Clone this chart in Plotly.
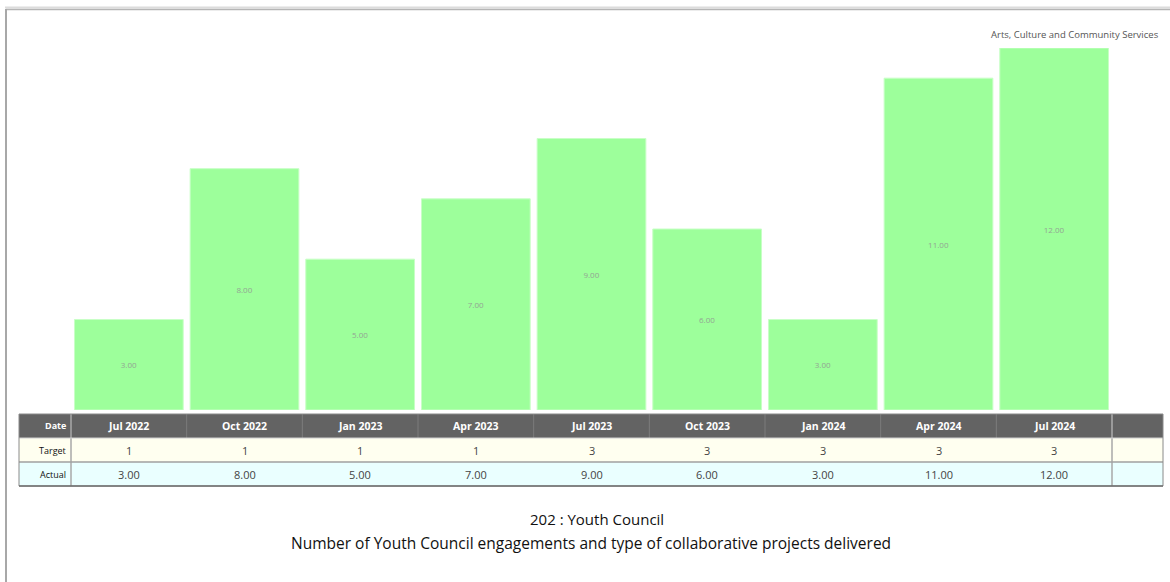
import plotly.graph_objects as go

dates = ["Jul 2022", "Oct 2022", "Jan 2023", "Apr 2023", "Jul 2023",
         "Oct 2023", "Jan 2024", "Apr 2024", "Jul 2024"]
target = [1, 1, 1, 1, 3, 3, 3, 3, 3]
actual = [3.00, 8.00, 5.00, 7.00, 9.00, 6.00, 3.00, 11.00, 12.00]

W, H = 1170, 582
L, R, T, B = 71, 1112, 48, 410  # plot area in pixels
FONT = "Open Sans"


def px(x):
    return (x - L) / (R - L)


def py(y):
    return (B - y) / (B - T)


fig = go.Figure()
fig.add_trace(go.Bar(
    x=dates, y=actual,
    marker=dict(color="#9dff9b", line=dict(color="#c8ffc6", width=1)),
    text=[f"{v:.2f}" for v in actual],
    textposition="inside", insidetextanchor="middle",
    textangle=0, constraintext="none",
    textfont=dict(family=FONT, size=8, color="#93a593"),
    hoverinfo="skip",
))

shapes = []
ann = []

# frame
shapes.append(dict(type="line", xref="paper", yref="paper",
                   x0=px(5), x1=px(1170), y0=py(7.5), y1=py(7.5),
                   line=dict(color="#dcdcdc", width=2)))
shapes.append(dict(type="line", xref="paper", yref="paper",
                   x0=px(6), x1=px(1170), y0=py(9.5), y1=py(9.5),
                   line=dict(color="#b5b5b5", width=1.5)))
shapes.append(dict(type="line", xref="paper", yref="paper",
                   x0=px(6), x1=px(6), y0=py(9), y1=py(582),
                   line=dict(color="#a8a8a8", width=2)))

# table geometry
tx0, tx1 = 19, 1163
rows = [414, 438, 462, 486]
n = len(dates)
colw = (R - L) / n
bounds = [L + i * colw for i in range(n + 1)]

fills = ["#636363", "#fffff0", "#eaffff"]
for r in range(3):
    shapes.append(dict(type="rect", xref="paper", yref="paper",
                       x0=px(tx0), x1=px(tx1), y0=py(rows[r]), y1=py(rows[r + 1]),
                       fillcolor=fills[r], line=dict(width=0), layer="below"))

# header separators
for b in bounds[1:]:
    shapes.append(dict(type="line", xref="paper", yref="paper",
                       x0=px(b), x1=px(b), y0=py(rows[0]), y1=py(rows[1]),
                       line=dict(color="#7c7c7c", width=1)))
# label column and extra column separators through body
for b in [L, R]:
    shapes.append(dict(type="line", xref="paper", yref="paper",
                       x0=px(b), x1=px(b), y0=py(rows[0]), y1=py(rows[3]),
                       line=dict(color="#a8a8a8", width=1.5)))
# row separators
shapes.append(dict(type="line", xref="paper", yref="paper",
                   x0=px(tx0), x1=px(tx1), y0=py(rows[2]), y1=py(rows[2]),
                   line=dict(color="#a0a0a0", width=1.5)))
shapes.append(dict(type="line", xref="paper", yref="paper",
                   x0=px(tx0), x1=px(tx1), y0=py(rows[1]), y1=py(rows[1]),
                   line=dict(color="#d0d0d0", width=1)))
# outer border
shapes.append(dict(type="rect", xref="paper", yref="paper",
                   x0=px(tx0), x1=px(tx1), y0=py(rows[0]), y1=py(rows[3]),
                   fillcolor="rgba(0,0,0,0)", line=dict(color="#8a8a8a", width=1)))
shapes.append(dict(type="line", xref="paper", yref="paper",
                   x0=px(tx0), x1=px(tx1), y0=py(rows[3]), y1=py(rows[3]),
                   line=dict(color="#6f6f6f", width=1.5)))

# row labels
labels = ["<b>Date</b>", "Target", "Actual"]
lcolors = ["#ffffff", "#111111", "#111111"]
for r in range(3):
    ann.append(dict(xref="paper", yref="paper", x=px(L - 3),
                    y=py((rows[r] + rows[r + 1]) / 2), text=labels[r],
                    showarrow=False, xanchor="right", yanchor="middle",
                    font=dict(family=FONT, size=9, color=lcolors[r])))

for i, d in enumerate(dates):
    cx = px((bounds[i] + bounds[i + 1]) / 2)
    ann.append(dict(xref="paper", yref="paper", x=cx,
                    y=py((rows[0] + rows[1]) / 2), text=f"<b>{d}</b>",
                    showarrow=False, xanchor="center", yanchor="middle",
                    font=dict(family=FONT, size=10.5, color="#ffffff")))
    ann.append(dict(xref="paper", yref="paper", x=cx,
                    y=py((rows[1] + rows[2]) / 2), text=f"{target[i]}",
                    showarrow=False, xanchor="center", yanchor="middle",
                    font=dict(family=FONT, size=11, color="#444444")))
    ann.append(dict(xref="paper", yref="paper", x=cx,
                    y=py((rows[2] + rows[3]) / 2), text=f"{actual[i]:.2f}",
                    showarrow=False, xanchor="center", yanchor="middle",
                    font=dict(family=FONT, size=11, color="#444444")))

# top-right department label
ann.append(dict(xref="paper", yref="paper", x=px(1161), y=py(35),
                text="Arts, Culture and Community Services", showarrow=False,
                xanchor="right", yanchor="middle",
                font=dict(family=FONT, size=9.5, color="#555555")))

# titles
ann.append(dict(xref="paper", yref="paper", x=px(597), y=py(519),
                text="202 : Youth Council", showarrow=False,
                xanchor="center", yanchor="middle",
                font=dict(family=FONT, size=15, color="#111111")))
ann.append(dict(xref="paper", yref="paper", x=px(591), y=py(543),
                text="Number of Youth Council engagements and type of collaborative projects delivered",
                showarrow=False, xanchor="center", yanchor="middle",
                font=dict(family=FONT, size=15.5, color="#111111")))

fig.update_layout(
    width=W, height=H,
    margin=dict(l=L, r=W - R, t=T, b=H - B, pad=0),
    paper_bgcolor="#ffffff", plot_bgcolor="#ffffff",
    showlegend=False, bargap=0.06,
    shapes=shapes, annotations=ann,
    font=dict(family=FONT),
    xaxis=dict(visible=False, range=[-0.5, n - 0.5], fixedrange=True),
    yaxis=dict(visible=False, range=[0, 12], fixedrange=True),
)

fig.write_html("out.html")
